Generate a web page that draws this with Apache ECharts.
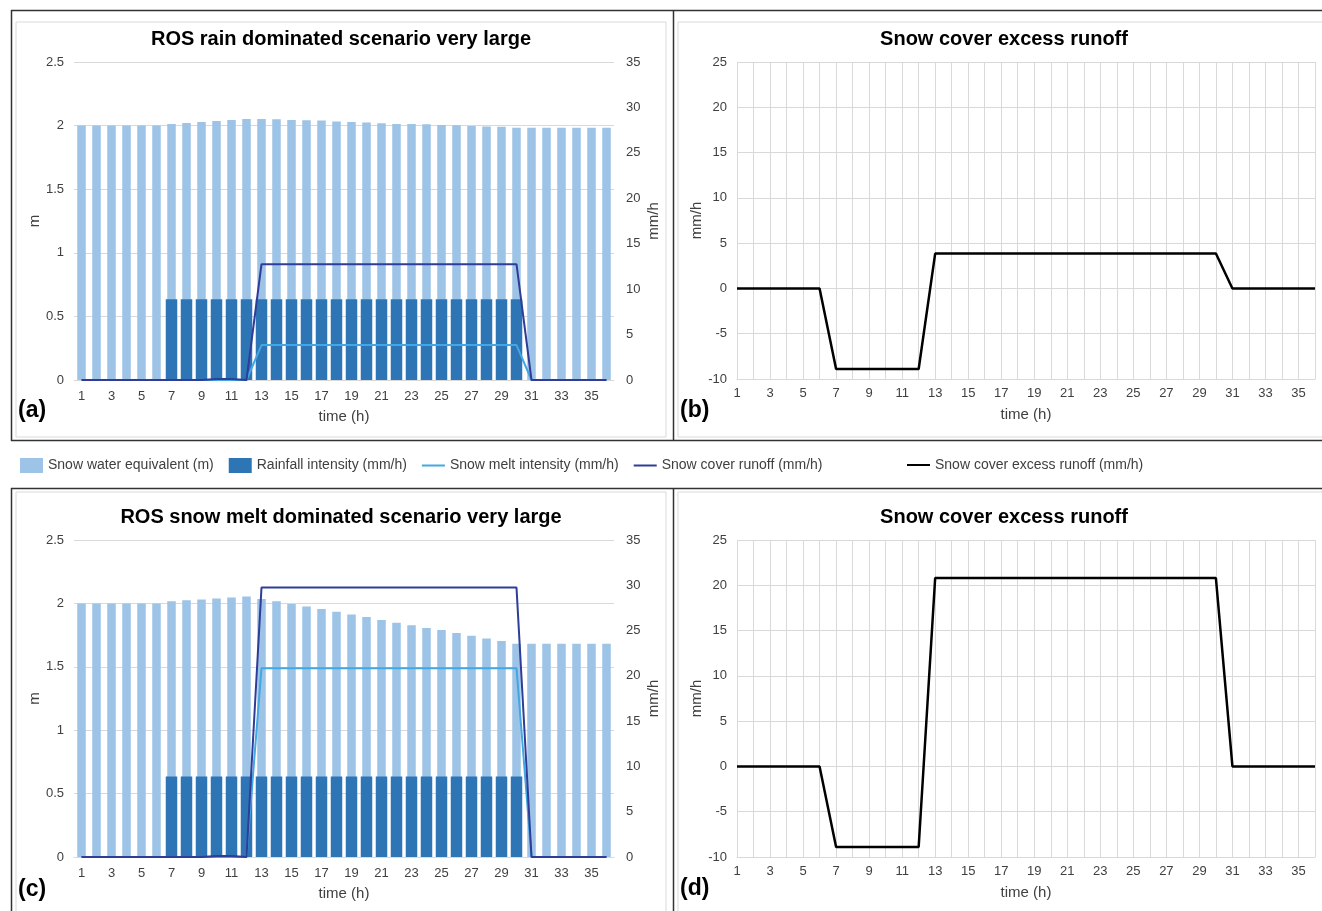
<!DOCTYPE html>
<html><head><meta charset="utf-8">
<script src="https://cdn.jsdelivr.net/npm/echarts@6/dist/echarts.min.js"></script>
<style>html,body{margin:0;padding:0;background:#fff}#c{width:1322px;height:911px}</style>
</head><body><div id="c"></div><script>
// ---- data ----
const hours = ['1','2','3','4','5','6','7','8','9','10','11','12','13','14','15','16','17','18','19','20','21','22','23','24','25','26','27','28','29','30','31','32','33','34','35','36'];

// Scenario (a)/(b): rain dominated
const sweA = [2.000,2.000,2.000,2.000,2.000,2.000,2.013,2.021,2.029,2.037,2.045,2.052,2.052,2.050,2.045,2.042,2.040,2.033,2.029,2.024,2.018,2.013,2.013,2.010,2.005,2.003,1.997,1.992,1.990,1.984,1.984,1.984,1.984,1.984,1.984,1.984];
const rainA = [0,0,0,0,0,0,8.9,8.9,8.9,8.9,8.9,8.9,8.9,8.9,8.9,8.9,8.9,8.9,8.9,8.9,8.9,8.9,8.9,8.9,8.9,8.9,8.9,8.9,8.9,8.9,0,0,0,0,0,0];
const meltA = [0,0,0,0,0,0,0,0,0,0,0,0,3.85,3.85,3.85,3.85,3.85,3.85,3.85,3.85,3.85,3.85,3.85,3.85,3.85,3.85,3.85,3.85,3.85,3.85,0,0,0,0,0,0];
const runoffA = [0,0,0,0,0,0,0,0,0,0.12,0.12,0,12.75,12.75,12.75,12.75,12.75,12.75,12.75,12.75,12.75,12.75,12.75,12.75,12.75,12.75,12.75,12.75,12.75,12.75,0,0,0,0,0,0];
const excessB = [0,0,0,0,0,0,-8.9,-8.9,-8.9,-8.9,-8.9,-8.9,3.85,3.85,3.85,3.85,3.85,3.85,3.85,3.85,3.85,3.85,3.85,3.85,3.85,3.85,3.85,3.85,3.85,3.85,0,0,0,0,0,0];

// Scenario (c)/(d): snow melt dominated
const sweC = [2.000,2.000,2.000,2.000,2.000,2.000,2.016,2.024,2.031,2.039,2.047,2.055,2.034,2.016,1.995,1.976,1.955,1.934,1.913,1.892,1.869,1.848,1.827,1.806,1.790,1.766,1.745,1.724,1.703,1.682,1.682,1.682,1.682,1.682,1.682,1.682];
const rainC = [0,0,0,0,0,0,8.9,8.9,8.9,8.9,8.9,8.9,8.9,8.9,8.9,8.9,8.9,8.9,8.9,8.9,8.9,8.9,8.9,8.9,8.9,8.9,8.9,8.9,8.9,8.9,0,0,0,0,0,0];
const meltC = [0,0,0,0,0,0,0,0,0,0,0,0,20.85,20.85,20.85,20.85,20.85,20.85,20.85,20.85,20.85,20.85,20.85,20.85,20.85,20.85,20.85,20.85,20.85,20.85,0,0,0,0,0,0];
const runoffC = [0,0,0,0,0,0,0,0,0,0.12,0.12,0,29.75,29.75,29.75,29.75,29.75,29.75,29.75,29.75,29.75,29.75,29.75,29.75,29.75,29.75,29.75,29.75,29.75,29.75,0,0,0,0,0,0];
const excessD = [0,0,0,0,0,0,-8.9,-8.9,-8.9,-8.9,-8.9,-8.9,20.8,20.8,20.8,20.8,20.8,20.8,20.8,20.8,20.8,20.8,20.8,20.8,20.8,20.8,20.8,20.8,20.8,20.8,0,0,0,0,0,0];

const titleA = 'ROS rain dominated scenario very large';
const titleC = 'ROS snow melt dominated scenario very large';
const titleB = 'Snow cover excess runoff';
const names = ['Snow water equivalent (m)','Rainfall intensity (mm/h)','Snow melt intensity (mm/h)','Snow cover runoff (mm/h)','Snow cover excess runoff (mm/h)'];

// ---- styling ----
const FONT = "'Liberation Sans', Arial, sans-serif";
const TXT = '#404040';
const GRID = '#D9D9D9';
const C_SWE = '#9DC3E6', C_RAIN = '#2E75B6', C_MELT = '#41A8E2', C_RUN = '#2F3C98', C_EXC = '#000000';

const chart = echarts.init(document.getElementById('c'), null, {renderer:'canvas'});

function catAxis(grid, lineMode, show) {
  return {
    type:'category', data:hours, gridIndex:grid, show:show,
    boundaryGap: !lineMode,
    axisTick:{show:false},
    axisLine:{show:true, onZero:false, lineStyle:{color:GRID, width:1}},
    axisLabel:{interval:1, color:TXT, fontSize:13, fontFamily:FONT, margin: lineMode?8:10},
    splitLine:{show:lineMode, interval:0, lineStyle:{color:GRID, width:1}},
    name:'time (h)', nameLocation:'middle', nameGap: lineMode?28:29,
    nameTextStyle:{color:TXT, fontSize:15, fontFamily:FONT}
  };
}
function valAxis(grid, min, max, step, pos, name, split, gap) {
  return {
    type:'value', gridIndex:grid, position:pos, min:min, max:max, interval:step,
    axisLine:{show:false}, axisTick:{show:false},
    axisLabel:{color:TXT, fontSize:13, fontFamily:FONT, margin: pos==='right'?12:10},
    splitLine:{show:split, lineStyle:{color:GRID, width:1}},
    name:name, nameLocation:'middle', nameGap:gap,
    nameTextStyle:{color:TXT, fontSize:15, fontFamily:FONT}
  };
}
function lineSeries(name, xi, yi, data, color, w) {
  return {type:'line', name:name, xAxisIndex:xi, yAxisIndex:yi, data:data, symbol:'none',
    lineStyle:{color:color, width:w}, itemStyle:{color:color}, z:3};
}
function barSeries(name, xi, yi, data, color, w) {
  return {type:'bar', name:name, xAxisIndex:xi, yAxisIndex:yi, data:data, barWidth:w,
    itemStyle:{color:color}, z:2};
}
function txt(x, y, text, size, bold, align) {
  return {type:'text', x:x, y:y, z:100, style:{text:text, align:align||'center', verticalAlign:'middle',
    fontSize:size, fontWeight:bold?'bold':'normal', fontFamily:FONT, fill:'#000'}};
}
function ln(x1,y1,x2,y2,color,w){
  return {type:'line', z:90, shape:{x1:x1,y1:y1,x2:x2,y2:y2}, style:{stroke:color, lineWidth:w}};
}
function box(x,y,w,h){
  return {type:'rect', z:80, shape:{x:x,y:y,width:w,height:h}, style:{fill:'none', stroke:GRID, lineWidth:1}};
}
const lineIcon = 'path://M0,0L23,0L23,2L0,2Z';

chart.setOption({
  animation:false,
  backgroundColor:'#fff',
  textStyle:{fontFamily:FONT},
  grid:[
    {left:74, top:62, width:540, height:318},
    {left:737, top:62, width:578, height:317},
    {left:74, top:540, width:540, height:317},
    {left:737, top:540, width:578, height:317}
  ],
  xAxis:[
    catAxis(0,false,true), catAxis(0,false,false),
    catAxis(1,true,true),
    catAxis(2,false,true), catAxis(2,false,false),
    catAxis(3,true,true)
  ],
  yAxis:[
    valAxis(0,0,2.5,0.5,'left','m',true,31),
    valAxis(0,0,35,5,'right','mm/h',false,32),
    valAxis(1,-10,25,5,'left','mm/h',true,31),
    valAxis(2,0,2.5,0.5,'left','m',true,31),
    valAxis(2,0,35,5,'right','mm/h',false,32),
    valAxis(3,-10,25,5,'left','mm/h',true,31)
  ],
  legend:[
    {left:20, top:458, padding:0, itemWidth:23, itemHeight:15, itemGap:15, selectedMode:false,
     textStyle:{color:TXT, fontSize:14, fontFamily:FONT},
     data:[{name:names[0], icon:'rect'},{name:names[1], icon:'rect'},{name:names[2], icon:lineIcon},{name:names[3], icon:lineIcon}]},
    {left:907, top:458, padding:0, itemWidth:23, itemHeight:15, selectedMode:false,
     textStyle:{color:TXT, fontSize:14, fontFamily:FONT},
     data:[{name:names[4], icon:lineIcon}]}
  ],
  series:[
    barSeries(names[0],0,0,sweA,C_SWE,8.5),
    barSeries(names[1],1,1,rainA,C_RAIN,11.5),
    lineSeries(names[2],0,1,meltA,C_MELT,2),
    lineSeries(names[3],0,1,runoffA,C_RUN,2),
    lineSeries(names[4],2,2,excessB,C_EXC,2.5),
    barSeries(names[0],3,3,sweC,C_SWE,8.5),
    barSeries(names[1],4,4,rainC,C_RAIN,11.5),
    lineSeries(names[2],3,4,meltC,C_MELT,2),
    lineSeries(names[3],3,4,runoffC,C_RUN,2),
    lineSeries(names[4],5,5,excessD,C_EXC,2.5)
  ],
  graphic:[
    box(16,22,650,415), box(678,22,660,415), box(16,492,650,430), box(678,492,660,430),
    ln(11,10.5,1322,10.5,'#333',1.5), ln(11,440.5,1322,440.5,'#333',1.5),
    ln(11.5,10,11.5,441,'#333',1.5), ln(673.5,10,673.5,441,'#333',1.5),
    ln(11,488.5,1322,488.5,'#333',1.5),
    ln(11.5,488,11.5,911,'#333',1.5), ln(673.5,488,673.5,911,'#333',1.5),
    txt(341,39,titleA,20,true), txt(1004,39,titleB,20,true),
    txt(341,517,titleC,20,true), txt(1004,517,titleB,20,true),
    txt(18,411,'(a)',23,true,'left'), txt(680,411,'(b)',23,true,'left'),
    txt(18,890,'(c)',23,true,'left'), txt(680,889,'(d)',23,true,'left')
  ]
});
</script></body></html>
